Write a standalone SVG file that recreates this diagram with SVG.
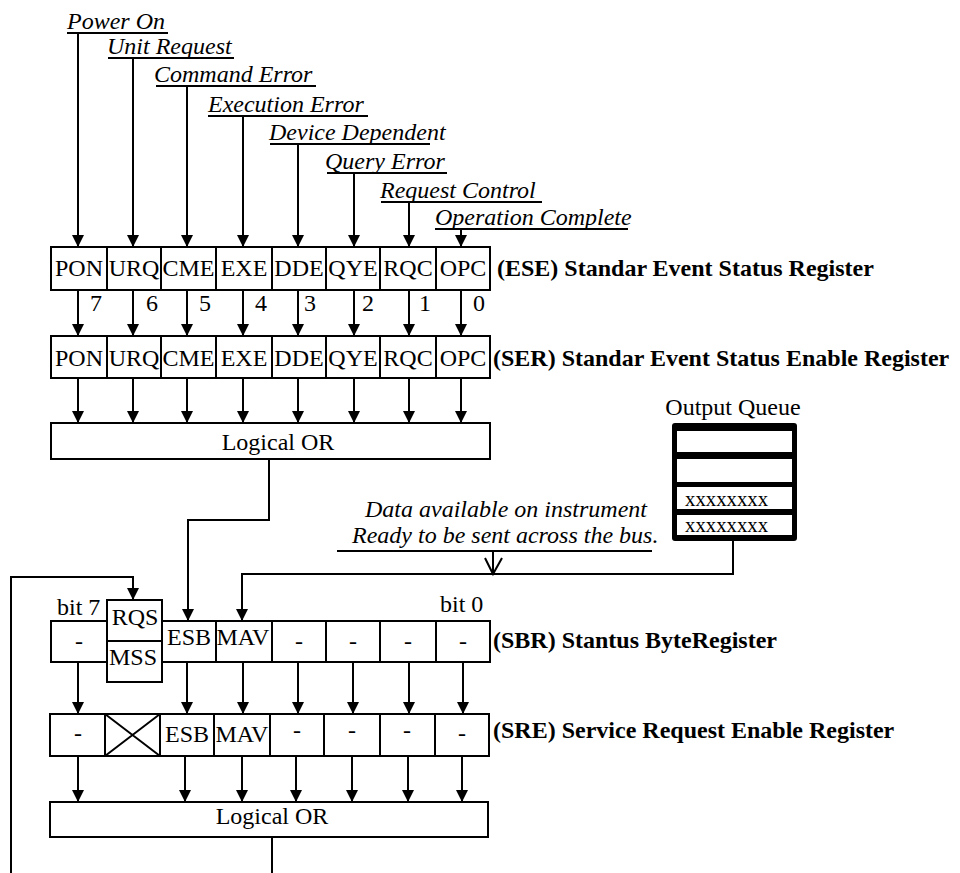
<svg xmlns="http://www.w3.org/2000/svg" width="960" height="873" viewBox="0 0 960 873">
<defs>
<marker id="ah" viewBox="0 0 12 12" refX="12" refY="6" markerWidth="12" markerHeight="13" markerUnits="userSpaceOnUse" orient="auto">
<path d="M0,0 L12,6 L0,12 Z" fill="#000"/>
</marker>
<style>
text{font-family:"Liberation Serif","Times New Roman",serif;font-size:24px;fill:#000}
.c{text-anchor:middle}
.i{font-style:italic}
.b{font-weight:bold}
.box{fill:#fff;stroke:#000;stroke-width:2}
.ln{fill:none;stroke:#000;stroke-width:2}
.ar{fill:none;stroke:#000;stroke-width:2;marker-end:url(#ah)}
.x{font-size:20px}
</style>
</defs>
<rect width="960" height="873" fill="#fff"/>

<g id="top-labels">
<text class="i" x="67" y="29">Power On</text>
<text class="i" x="107" y="54">Unit Request</text>
<text class="i" x="154" y="82">Command Error</text>
<text class="i" x="208" y="112">Execution Error</text>
<text class="i" x="269" y="140">Device Dependent</text>
<text class="i" x="325" y="169">Query Error</text>
<text class="i" x="380" y="198">Request Control</text>
<text class="i" x="435" y="225">Operation Complete</text>
<line class="ln" x1="67" y1="33" x2="168" y2="33"/>
<line class="ln" x1="108" y1="58" x2="234" y2="58"/>
<line class="ln" x1="156" y1="86" x2="316" y2="86"/>
<line class="ln" x1="208" y1="116" x2="368" y2="116"/>
<line class="ln" x1="270" y1="144" x2="430" y2="144"/>
<line class="ln" x1="327" y1="173" x2="447" y2="173"/>
<line class="ln" x1="381" y1="202" x2="542" y2="202"/>
<line class="ln" x1="435" y1="229" x2="628" y2="229"/>
</g>

<g id="ese-register">
<rect class="box" x="51" y="247" width="439" height="43"/>
<path class="ln" d="M107,247V290M161,247V290M216,247V290M272,247V290M326,247V290M380,247V290M436,247V290"/>
<text class="c" x="79" y="276">PON</text>
<text class="c" x="134" y="276">URQ</text>
<text class="c" x="188.5" y="276">CME</text>
<text class="c" x="244" y="276">EXE</text>
<text class="c" x="299" y="276">DDE</text>
<text class="c" x="353" y="276">QYE</text>
<text class="c" x="408" y="276">RQC</text>
<text class="c" x="463" y="276">OPC</text>
<text class="b" x="497" y="276">(ESE) Standar Event Status Register</text>
</g>

<g id="bit-numbers">
<text x="90" y="311">7</text>
<text x="146" y="311">6</text>
<text x="199" y="311">5</text>
<text x="255" y="311">4</text>
<text x="304" y="311">3</text>
<text x="362" y="311">2</text>
<text x="419" y="311">1</text>
<text x="473" y="311">0</text>
</g>

<g id="ser-register">
<rect class="box" x="51" y="336" width="439" height="42"/>
<path class="ln" d="M107,336V378M161,336V378M216,336V378M272,336V378M326,336V378M380,336V378M436,336V378"/>
<text class="c" x="79" y="366">PON</text>
<text class="c" x="134" y="366">URQ</text>
<text class="c" x="188.5" y="366">CME</text>
<text class="c" x="244" y="366">EXE</text>
<text class="c" x="299" y="366">DDE</text>
<text class="c" x="353" y="366">QYE</text>
<text class="c" x="408" y="366">RQC</text>
<text class="c" x="463" y="366">OPC</text>
<text class="b" x="493" y="366">(SER) Standar Event Status Enable Register</text>
</g>

<g id="logical-or-1">
<rect class="box" x="51" y="423" width="439" height="36"/>
<text class="c" x="278" y="450">Logical OR</text>
</g>

<g id="output-queue">
<text class="c" x="733" y="415">Output Queue</text>
<rect x="672" y="423" width="125" height="118" rx="3" fill="#000"/>
<rect x="677" y="431" width="115" height="21" fill="#fff"/>
<rect x="677" y="459" width="115" height="23" fill="#fff"/>
<rect x="677" y="487" width="115" height="22" fill="#fff"/>
<rect x="677" y="515" width="115" height="20" fill="#fff"/>
<text class="x" x="685" y="506" textLength="83" lengthAdjust="spacingAndGlyphs">xxxxxxxx</text>
<text class="x" x="685" y="532" textLength="83" lengthAdjust="spacingAndGlyphs">xxxxxxxx</text>
</g>

<g id="data-label">
<text class="i" x="365" y="517">Data available on instrument</text>
<text class="i" x="352" y="543">Ready to be sent across the bus.</text>
<line class="ln" x1="337" y1="551" x2="652" y2="551"/>
</g>

<g id="sbr-register">
<text x="57" y="615">bit 7</text>
<text x="440" y="612">bit 0</text>
<rect class="box" x="51" y="621" width="439" height="41"/>
<path class="ln" d="M216,621V662M272,621V662M326,621V662M380,621V662M436,621V662"/>
<rect class="box" x="107" y="600" width="55" height="82"/>
<line class="ln" x1="107" y1="641" x2="162" y2="641"/>
<text class="c" x="135" y="625">RQS</text>
<text class="c" x="133" y="665">MSS</text>
<text class="c" x="79" y="649">-</text>
<text class="c" x="189" y="645">ESB</text>
<text class="c" x="243" y="645">MAV</text>
<text class="c" x="299" y="649">-</text>
<text class="c" x="353" y="649">-</text>
<text class="c" x="408" y="649">-</text>
<text class="c" x="463" y="649">-</text>
<text class="b" x="493" y="648">(SBR) Stantus ByteRegister</text>
</g>

<g id="sre-register">
<rect class="box" x="50" y="714" width="439" height="42"/>
<path class="ln" d="M105,714V756M160,714V756M214,714V756M270,714V756M324,714V756M380,714V756M435,714V756"/>
<path class="ln" d="M105,714L160,756M160,714L105,756"/>
<text class="c" x="78" y="741">-</text>
<text class="c" x="187" y="742">ESB</text>
<text class="c" x="242" y="742">MAV</text>
<text class="c" x="297" y="738">-</text>
<text class="c" x="352" y="738">-</text>
<text class="c" x="407" y="738">-</text>
<text class="c" x="462" y="741">-</text>
<text class="b" x="493" y="738">(SRE) Service Request Enable Register</text>
</g>

<g id="logical-or-2">
<rect class="box" x="50" y="802" width="438" height="35"/>
<text class="c" x="272" y="824">Logical OR</text>
</g>

<g id="connectors">
<line class="ar" x1="78" y1="33" x2="78" y2="247"/>
<line class="ar" x1="133" y1="58" x2="133" y2="247"/>
<line class="ar" x1="187" y1="86" x2="187" y2="247"/>
<line class="ar" x1="243" y1="116" x2="243" y2="247"/>
<line class="ar" x1="298" y1="144" x2="298" y2="247"/>
<line class="ar" x1="354" y1="173" x2="354" y2="247"/>
<line class="ar" x1="409" y1="202" x2="409" y2="247"/>
<line class="ar" x1="461" y1="229" x2="461" y2="247"/>

<line class="ar" x1="78" y1="290" x2="78" y2="336"/>
<line class="ar" x1="133" y1="290" x2="133" y2="336"/>
<line class="ar" x1="187" y1="290" x2="187" y2="336"/>
<line class="ar" x1="243" y1="290" x2="243" y2="336"/>
<line class="ar" x1="298" y1="290" x2="298" y2="336"/>
<line class="ar" x1="354" y1="290" x2="354" y2="336"/>
<line class="ar" x1="409" y1="290" x2="409" y2="336"/>
<line class="ar" x1="461" y1="290" x2="461" y2="336"/>

<line class="ar" x1="78" y1="378" x2="78" y2="423"/>
<line class="ar" x1="133" y1="378" x2="133" y2="423"/>
<line class="ar" x1="187" y1="378" x2="187" y2="423"/>
<line class="ar" x1="243" y1="378" x2="243" y2="423"/>
<line class="ar" x1="298" y1="378" x2="298" y2="423"/>
<line class="ar" x1="354" y1="378" x2="354" y2="423"/>
<line class="ar" x1="409" y1="378" x2="409" y2="423"/>
<line class="ar" x1="461" y1="378" x2="461" y2="423"/>

<polyline class="ar" points="269,459 269,520 188,520 188,621"/>
<polyline class="ar" points="733,541 733,574 242,574 242,621"/>
<polyline class="ln" points="485,558 493,574 502,558"/>
<line class="ln" x1="493" y1="551" x2="493" y2="574"/>
<polyline class="ar" points="11,873 11,577 133,577 133,600"/>

<line class="ar" x1="78" y1="662" x2="78" y2="714"/>
<line class="ar" x1="187" y1="662" x2="187" y2="714"/>
<line class="ar" x1="243" y1="662" x2="243" y2="714"/>
<line class="ar" x1="298" y1="662" x2="298" y2="714"/>
<line class="ar" x1="353" y1="662" x2="353" y2="714"/>
<line class="ar" x1="409" y1="662" x2="409" y2="714"/>
<line class="ar" x1="463" y1="662" x2="463" y2="714"/>

<line class="ar" x1="78" y1="756" x2="78" y2="802"/>
<line class="ar" x1="185" y1="756" x2="185" y2="802"/>
<line class="ar" x1="242" y1="756" x2="242" y2="802"/>
<line class="ar" x1="296" y1="756" x2="296" y2="802"/>
<line class="ar" x1="352" y1="756" x2="352" y2="802"/>
<line class="ar" x1="408" y1="756" x2="408" y2="802"/>
<line class="ar" x1="462" y1="756" x2="462" y2="802"/>

<line class="ln" x1="272" y1="837" x2="272" y2="873"/>
</g>
</svg>
